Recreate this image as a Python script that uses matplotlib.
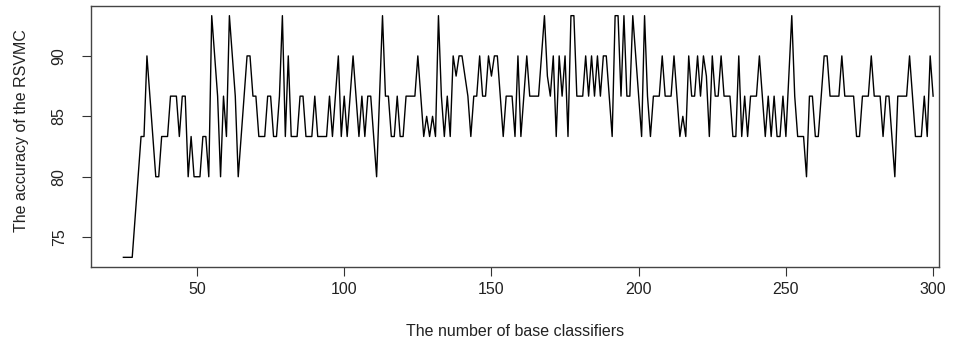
import numpy as np
import matplotlib
matplotlib.use("Agg")
import matplotlib.pyplot as plt

plt.rcParams['font.family'] = ['Liberation Sans', 'DejaVu Sans']

# number of base classifiers, 25..300
n_start = 25
n_end = 300

acc = [
    73.33, 73.33, 73.33, 73.33, 76.67, 80, 83.33, 83.33, 90, 86.67,
    83.33, 80, 80, 83.33, 83.33, 83.33, 86.67, 86.67, 86.67, 83.33,
    86.67, 86.67, 80, 83.33, 80, 80, 80, 83.33, 83.33, 80,
    93.33, 90, 86.67, 80, 86.67, 83.33, 93.33, 90, 86.67, 80,
    83.33, 86.67, 90, 90, 86.67, 86.67, 83.33, 83.33, 83.33, 86.67,
    86.67, 83.33, 83.33, 86.67, 93.33, 83.33, 90, 83.33, 83.33, 83.33,
    86.67, 86.67, 83.33, 83.33, 83.33, 86.67, 83.33, 83.33, 83.33, 83.33,
    86.67, 83.33, 86.67, 90, 83.33, 86.67, 83.33, 86.67, 90, 86.67,
    83.33, 86.67, 83.33, 86.67, 86.67, 83.33, 80, 86.67, 93.33, 86.67,
    86.67, 83.33, 83.33, 86.67, 83.33, 83.33, 86.67, 86.67, 86.67, 86.67,
    90, 86.67, 83.33, 85, 83.33, 85, 83.33, 93.33, 86.67, 83.33,
    86.67, 83.33, 90, 88.33, 90, 90, 88.33, 86.67, 83.33, 86.67,
    86.67, 90, 86.67, 86.67, 90, 88.33, 90, 90, 86.67, 83.33,
    86.67, 86.67, 86.67, 83.33, 90, 83.33, 86.67, 90, 86.67, 86.67,
    86.67, 86.67, 90, 93.33, 88.33, 86.67, 90, 83.33, 90, 86.67,
    90, 83.33, 93.33, 93.33, 86.67, 86.67, 86.67, 90, 86.67, 90,
    86.67, 90, 86.67, 90, 90, 86.67, 83.33, 93.33, 93.33, 86.67,
    93.33, 86.67, 86.67, 93.33, 90, 86.67, 83.33, 93.33, 86.67, 83.33,
    86.67, 86.67, 86.67, 90, 86.67, 86.67, 86.67, 90, 86.67, 83.33,
    85, 83.33, 90, 86.67, 86.67, 90, 86.67, 90, 88.33, 83.33,
    90, 86.67, 86.67, 90, 86.67, 86.67, 86.67, 83.33, 83.33, 90,
    83.33, 86.67, 83.33, 86.67, 86.67, 86.67, 90, 86.67, 83.33, 86.67,
    83.33, 86.67, 83.33, 83.33, 86.67, 83.33, 88.33, 93.33, 86.67, 83.33,
    83.33, 83.33, 80, 86.67, 86.67, 83.33, 83.33, 86.67, 90, 90,
    86.67, 86.67, 86.67, 86.67, 90, 86.67, 86.67, 86.67, 86.67, 83.33,
    83.33, 86.67, 86.67, 86.67, 90, 86.67, 86.67, 86.67, 83.33, 86.67,
    86.67, 83.33, 80, 86.67, 86.67, 86.67, 86.67, 90, 86.67, 83.33,
    83.33, 83.33, 86.67, 83.33, 90, 86.67,
]
n_clf = np.arange(n_start, n_end + 1)

xticks = [50, 100, 150, 200, 250, 300]
yticks = [75, 80, 85, 90]

W, H = 959, 349
fig = plt.figure(figsize=(W / 100, H / 100), dpi=100)
ax = fig.add_axes([91 / W, 82 / H, (939 - 91) / W, 261 / H])

ax.plot(n_clf, acc, color='black', lw=1.0)

ax.set_xlim(14, 302)
ax.set_ylim(72.53, 94.13)
ax.set_xticks(xticks)
ax.set_yticks(yticks)
ax.set_yticklabels([str(t) for t in yticks], rotation=90, va='center')
ax.tick_params(axis='both', length=6.5, width=0.8, color='#333333',
               labelsize=11.5, labelcolor='#222222')
ax.tick_params(axis='x', pad=4)
ax.tick_params(axis='y', pad=11)
for s in ax.spines.values():
    s.set_color('#444444')
    s.set_linewidth(1.0)

fig.text(515 / W, 1 - 332 / H, 'The number of base classifiers',
         ha='center', va='center', fontsize=11.5, color='#222222')
fig.text(22 / W, 1 - 131 / H, 'The accuracy of the RSVMC', rotation=90,
         ha='center', va='center', fontsize=11.5, color='#222222')

fig.savefig('out.png', dpi=100)
